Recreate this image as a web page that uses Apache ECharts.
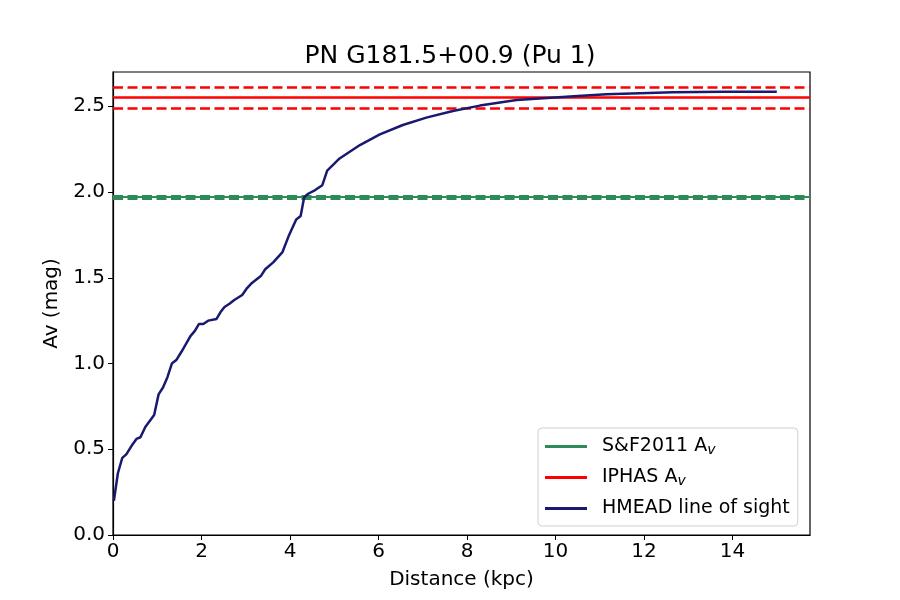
<!DOCTYPE html>
<html>
<head>
<meta charset="utf-8">
<script src="https://cdn.jsdelivr.net/npm/echarts@6/dist/echarts.min.js"></script>
<style>
html,body{margin:0;padding:0;background:#fff;}
#main{width:900px;height:600px;}
</style>
</head>
<body>
<div id="main"></div>
<script>
// HMEAD line of sight
var distance = [0.02, 0.11, 0.21, 0.30, 0.42, 0.53, 0.62, 0.73, 0.93, 1.03, 1.13, 1.23, 1.33, 1.43, 1.55, 1.64, 1.75, 1.85, 1.94, 2.04, 2.15, 2.34, 2.43, 2.52, 2.64, 2.74, 2.92, 3.03, 3.14, 3.34, 3.44, 3.62, 3.83, 3.98, 4.14, 4.24, 4.32, 4.41, 4.56, 4.73, 4.84, 5.12, 5.58, 6.03, 6.55, 7.08, 7.68, 8.29, 9.12, 9.9, 10.5, 11.15, 12.65, 13.8, 15.0];
var av = [0.20, 0.36, 0.45, 0.47, 0.52, 0.56, 0.57, 0.63, 0.70, 0.82, 0.86, 0.92, 1.00, 1.02, 1.07, 1.11, 1.16, 1.19, 1.23, 1.23, 1.25, 1.26, 1.30, 1.33, 1.35, 1.37, 1.40, 1.44, 1.47, 1.51, 1.55, 1.59, 1.65, 1.75, 1.84, 1.86, 1.97, 1.99, 2.01, 2.04, 2.125, 2.196, 2.274, 2.336, 2.391, 2.434, 2.473, 2.504, 2.537, 2.55, 2.56, 2.57, 2.582, 2.585, 2.585];
// [value, lower, upper]
var sfAv = [1.974, 1.963, 1.984];
var iphasAv = [2.549, 2.490, 2.612];
var xTicks = [0, 2, 4, 6, 8, 10, 12, 14];
var yTicks = [0, 0.5, 1.0, 1.5, 2.0, 2.5];

var FONT = 'DejaVu Sans';
var losData = [];
for (var i = 0; i < distance.length; i++) {
	losData.push([distance[i], av[i]]);
}
function hlines(vals, color, width) {
	var out = [];
	for (var i = 0; i < vals.length; i++) {
		out.push({
			yAxis: vals[i],
			lineStyle: {color: color, width: width, type: i == 0 ? 'solid' : [10, 4.5]}
		});
	}
	return out;
}
var legRich = {
	n: {fontFamily: FONT, fontSize: 19, color: '#000'},
	s: {fontFamily: FONT, fontSize: 14, fontStyle: 'italic', color: '#000', padding: [7, 0, 0, 0]}
};

var chart = echarts.init(document.getElementById('main'));
var option = {
	animation: false,
	backgroundColor: '#fff',
	title: {
		text: 'PN G181.5+00.9 (Pu 1)',
		left: 'center',
		top: 39,
		textStyle: {fontFamily: FONT, fontSize: 25, fontWeight: 'normal', color: '#000'}
	},
	grid: {
		left: 113, right: 90, top: 72, bottom: 65,
		show: true, borderColor: '#000', borderWidth: 1.2
	},
	legend: {
		orient: 'vertical',
		left: 538, top: 428,
		width: 250,
		padding: [8, 8, 7, 7],
		itemGap: 10,
		itemWidth: 42, itemHeight: 3,
		icon: 'rect',
		borderColor: '#d0d0d0', borderWidth: 1, borderRadius: 4,
		backgroundColor: 'rgba(255,255,255,0.85)',
		data: ['sf', 'iphas', 'los'],
		formatter: function(name) {
			if (name == 'sf') return '{n|S&F2011 A}{s|v}';
			if (name == 'iphas') return '{n|IPHAS A}{s|v}';
			return '{n|HMEAD line of sight}';
		},
		textStyle: {fontFamily: FONT, fontSize: 19, color: '#000', lineHeight: 21, padding: [0, 0, 0, 10], rich: legRich}
	},
	xAxis: {
		type: 'value',
		min: 0, max: 15.75,
		name: 'Distance (kpc)',
		nameLocation: 'middle',
		nameGap: 35,
		nameTextStyle: {fontFamily: FONT, fontSize: 20, color: '#000'},
		axisLine: {show: true, onZero: false, lineStyle: {color: '#000', width: 1.2}},
		axisTick: {show: true, length: 5, customValues: xTicks, lineStyle: {color: '#000'}},
		axisLabel: {customValues: xTicks, fontFamily: FONT, fontSize: 20, color: '#000', margin: 7},
		splitLine: {show: false}
	},
	yAxis: {
		type: 'value',
		min: 0, max: 2.7,
		name: 'Av (mag)',
		nameLocation: 'middle',
		nameGap: 49,
		nameTextStyle: {fontFamily: FONT, fontSize: 20, color: '#000'},
		axisLine: {show: true, onZero: false, lineStyle: {color: '#000', width: 1.2}},
		axisTick: {show: true, length: 5, customValues: yTicks, lineStyle: {color: '#000'}},
		axisLabel: {
			customValues: yTicks, fontFamily: FONT, fontSize: 20, color: '#000', margin: 8,
			formatter: function(v) { return v.toFixed(1); }
		},
		splitLine: {show: false}
	},
	series: [
		{
			name: 'sf', type: 'line', data: [], color: '#2e8b57',
			lineStyle: {color: '#2e8b57', width: 2},
			markLine: {silent: true, symbol: ['none', 'none'], label: {show: false}, data: hlines(sfAv, '#2e8b57', 2)},
			z: 2
		},
		{
			name: 'iphas', type: 'line', data: [], color: '#ff0000',
			lineStyle: {color: '#ff0000', width: 2.5},
			markLine: {silent: true, symbol: ['none', 'none'], label: {show: false}, data: hlines(iphasAv, '#ff0000', 2.5)},
			z: 3
		},
		{
			name: 'los', type: 'line', data: losData, color: '#191970',
			showSymbol: false, symbol: 'none',
			lineStyle: {color: '#191970', width: 2.5},
			z: 5
		}
	]
};
chart.setOption(option);
</script>
</body>
</html>
